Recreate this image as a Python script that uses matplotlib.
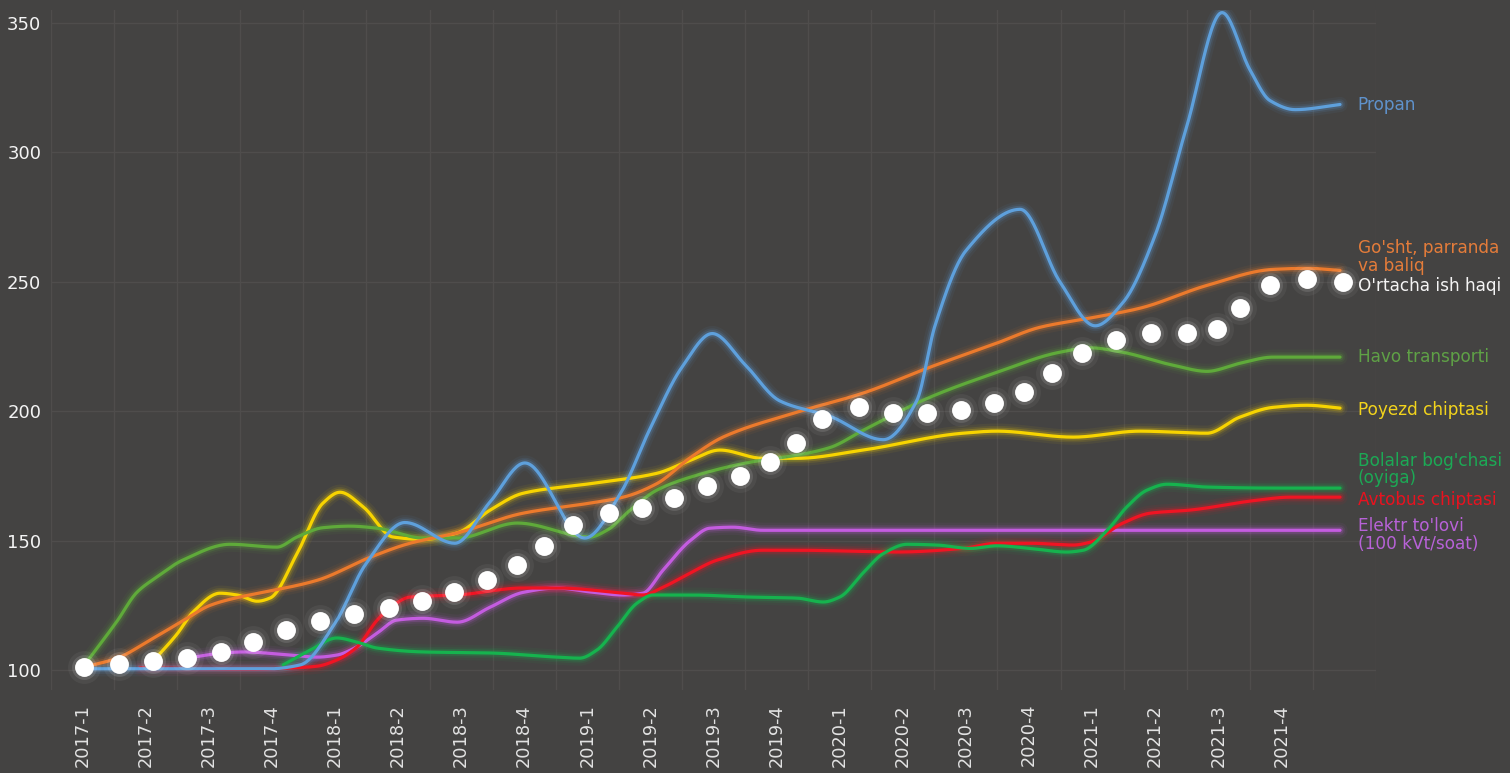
import numpy as np
import matplotlib.pyplot as plt

# x positions are in quarters: 0 = 2017-1, 1 = 2017-2, ...
quarters = ['2017-1', '2017-2', '2017-3', '2017-4',
            '2018-1', '2018-2', '2018-3', '2018-4',
            '2019-1', '2019-2', '2019-3', '2019-4',
            '2020-1', '2020-2', '2020-3', '2020-4',
            '2021-1', '2021-2', '2021-3', '2021-4']

propan_x = [0.0, 2.97, 3.45, 4.0, 4.49, 5.11, 5.90, 6.46, 7.01, 7.96, 8.52, 8.99,
            9.50, 9.98, 10.50, 11.05, 11.85, 12.69, 13.22, 13.51, 14.0, 14.86,
            15.49, 16.05, 16.49, 17.0, 17.5, 18.06, 18.5, 18.82, 19.22, 19.93]
propan_y = [100.5, 100.5, 102, 118, 141, 157, 149, 165, 180, 151, 168, 193,
            217, 230, 218, 204, 198, 189, 204, 233, 262, 278,
            250, 233, 242, 268, 310, 354, 332, 320, 316.5, 318.5]

gosht_x = [0.0, 0.55, 1.07, 1.59, 2.02, 2.45, 2.86, 3.72, 4.56, 5.19, 5.94, 6.98,
           8.04, 8.57, 9.10, 9.63, 10.15, 11.32, 12.37, 13.43, 14.49, 15.17,
           15.97, 16.76, 17.82, 18.87, 19.41, 19.93]
gosht_y = [101, 104.6, 111.6, 119, 125, 128, 130, 134.7, 143.6, 149, 153, 160.6,
           164.5, 166.8, 172, 182, 190, 199.6, 207, 217, 226.3, 232.4,
           236, 239.8, 248.6, 254.8, 255.2, 254.4]

havo_x = [0.0, 0.17, 0.55, 0.86, 1.18, 1.59, 2.34, 3.08, 3.40, 3.81, 4.24, 4.67,
          5.40, 5.94, 6.89, 8.04, 8.31, 8.68, 9.10, 9.63, 10.58, 11.32, 11.85,
          12.37, 13.43, 14.49, 15.49, 15.97, 16.44, 17.28, 17.82, 18.34, 18.87, 19.93]
havo_y = [101, 106.5, 119, 130, 136, 142.5, 148.6, 147.5, 151.4, 155, 155.6, 154.8,
          151, 151, 156.8, 151.4, 154, 161.8, 169.5, 174.5, 180.3, 183, 186,
          192.6, 205.4, 215, 222.8, 224.5, 223, 217.8, 215.4, 218.5, 220.9, 220.9]

poyezd_x = [1.12, 1.50, 1.75, 2.18, 2.45, 2.77, 2.97, 3.40, 3.81, 4.08, 4.45, 4.92,
            5.40, 5.94, 6.46, 6.98, 8.04, 9.10, 9.63, 10.10, 10.78, 11.32, 12.37,
            13.95, 14.49, 15.70, 16.76, 17.82, 18.34, 18.87, 19.41, 19.93]
poyezd_y = [103.5, 114, 122.4, 129.7, 129, 126.6, 127.8, 145, 164.5, 168.7, 163, 151.4,
            150.5, 153, 161.8, 168.3, 172, 176, 181, 185, 181.8, 181.8, 185,
            191.5, 192.3, 190, 192.3, 191.5, 197.7, 201.5, 202.3, 201.2]

bolalar_x = [3.18, 3.61, 4.03, 4.35, 4.67, 5.40, 6.46, 7.52, 7.88, 8.15, 8.47, 8.79,
             9.04, 9.63, 10.58, 11.32, 11.74, 12.0, 12.37, 12.69, 13.07, 13.54,
             14.07, 14.49, 15.02, 15.60, 15.86, 16.24, 16.55, 16.87, 17.19, 17.82,
             18.87, 19.93]
bolalar_y = [102, 107.7, 112.4, 110.8, 108.5, 107, 106.6, 105, 104.6, 107.7, 116.6, 125.9,
             129, 129, 128.2, 127.8, 126.3, 128.2, 137.5, 145, 148.6, 148.3,
             147, 148, 147, 145.6, 146.3, 154, 163, 169.5, 171.8, 170.7,
             170.3, 170.3]

avtobus_x = [0.91, 2.65, 3.45, 3.72, 4.03, 4.35, 4.67, 4.87, 5.19, 5.94, 6.98, 7.52,
             8.57, 8.88, 9.20, 9.63, 10.06, 10.78, 11.32, 12.91, 13.95, 14.49,
             15.02, 15.70, 15.97, 16.49, 16.92, 17.55, 18.61, 19.14, 19.93]
avtobus_y = [100.8, 100.4, 101, 101.5, 103.9, 108.9, 119.3, 124, 128.2, 129, 131.7, 131.7,
             129.7, 129, 132, 137.5, 142.5, 146.3, 146.3, 145.6, 147, 149,
             149, 148.3, 149.4, 156.8, 160.6, 161.8, 165.6, 166.8, 166.8]

elektr_x = [1.70, 2.23, 2.54, 3.29, 3.72, 4.03, 4.35, 4.67, 4.98, 5.40, 5.94, 6.46,
            6.98, 7.52, 8.04, 8.57, 8.88, 9.20, 9.63, 9.94, 10.31, 10.78, 19.93]
elektr_y = [104.8, 106.6, 107, 105.8, 105, 105.8, 109, 114.3, 119.3, 120, 118.5, 124.3,
            130, 131.7, 130.2, 129, 129.7, 138.6, 150, 154.8, 155.2, 154, 154]

# O'rtacha ish haqi (white dots)
wage_x = [0.02, 0.58, 1.12, 1.66, 2.19, 2.70, 3.23, 3.76, 4.30, 4.86,
          5.38, 5.89, 6.41, 6.89, 7.31, 7.77, 8.34, 8.87, 9.37, 9.90,
          10.42, 10.90, 11.31, 11.72, 12.31, 12.84, 13.38, 13.92, 14.44, 14.92,
          15.36, 15.84, 16.38, 16.93, 17.50, 17.98, 18.34, 18.82, 19.41, 19.98]
wage_y = [101.0, 102.5, 103.5, 104.8, 107.1, 111.0, 115.3, 118.8, 121.6, 123.8,
          126.7, 130.3, 134.8, 140.4, 147.9, 156.0, 160.7, 162.6, 166.5, 171.3,
          174.8, 180.2, 187.7, 197.0, 201.8, 199.3, 199.3, 200.3, 203.2, 207.6,
          214.8, 222.5, 227.5, 230.4, 230.4, 231.9, 239.7, 248.8, 251.1, 249.9]


def smooth(x, y, num=900):
    # monotone cubic (pchip) through the read points, for a smooth line
    x = np.asarray(x, float)
    y = np.asarray(y, float)
    h = np.diff(x)
    d = np.diff(y) / h
    m = np.zeros_like(y)
    m[0], m[-1] = d[0], d[-1]
    for k in range(1, len(x) - 1):
        if d[k - 1] * d[k] > 0:
            w1 = 2 * h[k] + h[k - 1]
            w2 = h[k] + 2 * h[k - 1]
            m[k] = (w1 + w2) / (w1 / d[k - 1] + w2 / d[k])
    xs = np.linspace(x[0], x[-1], num)
    i = np.clip(np.searchsorted(x, xs) - 1, 0, len(x) - 2)
    t = (xs - x[i]) / h[i]
    ys = ((2 * t**3 - 3 * t**2 + 1) * y[i] + (t**3 - 2 * t**2 + t) * h[i] * m[i]
          + (-2 * t**3 + 3 * t**2) * y[i + 1] + (t**3 - t**2) * h[i] * m[i + 1])
    return xs, ys


bg = '#444342'
gridc = '#4f4d4c'

fig = plt.figure(figsize=(15.1, 7.73), dpi=100, facecolor=bg)
ax = fig.add_axes([51 / 1510, 83 / 773, 1325 / 1510, 680 / 773])
ax.set_facecolor(bg)
ax.set_xlim(-0.5, 20.5)
ax.set_ylim(92.3, 355)

series = [
    (elektr_x, elektr_y, '#c45ce0'),
    (avtobus_x, avtobus_y, '#f01423'),
    (bolalar_x, bolalar_y, '#16b34e'),
    (poyezd_x, poyezd_y, '#f7d400'),
    (havo_x, havo_y, '#5faa3a'),
    (gosht_x, gosht_y, '#ec7a2c'),
    (propan_x, propan_y, '#5ea0dc'),
]
for xs, ys, col in series:
    sx, sy = smooth(xs, ys)
    for lw, a in [(11, 0.06), (7.5, 0.10), (5, 0.20)]:
        ax.plot(sx, sy, color=col, lw=lw, alpha=a, solid_capstyle='round', zorder=3)
    ax.plot(sx, sy, color=col, lw=2.3, solid_capstyle='round', zorder=4)

ax.scatter(wage_x, wage_y, s=560, color='white', alpha=0.05, linewidths=0, zorder=5)
ax.scatter(wage_x, wage_y, s=320, color='white', alpha=0.12, linewidths=0, zorder=5)
ax.scatter(wage_x, wage_y, s=185, color='white', linewidths=0, zorder=6)

# end labels
lx = 20.21
labels = [
    ('Propan', 318.3, '#5f92cc'),
    ("Go'sht, parranda\nva baliq", 259.6, '#e47c3a'),
    ("O'rtacha ish haqi", 248.4, '#f4f4f4'),
    ('Havo transporti', 221.0, '#5fa146'),
    ('Poyezd chiptasi', 200.5, '#f2d31c'),
    ("Bolalar bog'chasi\n(oyiga)", 177.5, '#1ca955'),
    ('Avtobus chiptasi', 165.7, '#e8121f'),
    ("Elektr to'lovi\n(100 kVt/soat)", 152.2, '#b862d8'),
]
for txt, yv, col in labels:
    ax.text(lx, yv, txt, color=col, fontsize=12.2, va='center', ha='left',
            linespacing=0.98, clip_on=False, zorder=7)

ax.set_yticks([100, 150, 200, 250, 300, 350])
ax.set_xticks(range(len(quarters)))
ax.set_xticklabels(quarters, rotation=90)
ax.set_xticks(np.arange(-0.5, 20.6, 1), minor=True)
ax.grid(which='minor', axis='x', color=gridc, lw=1)
ax.grid(which='major', axis='y', color=gridc, lw=1)
ax.set_axisbelow(True)
ax.tick_params(which='both', length=0)
ax.tick_params(axis='x', labelsize=12.8, labelcolor='#e2e2e2', pad=10)
ax.tick_params(axis='y', labelsize=13, labelcolor='#f4f4f4', pad=7)
for s in ax.spines.values():
    s.set_visible(False)

fig.savefig('out.png', dpi=100, facecolor=bg)
